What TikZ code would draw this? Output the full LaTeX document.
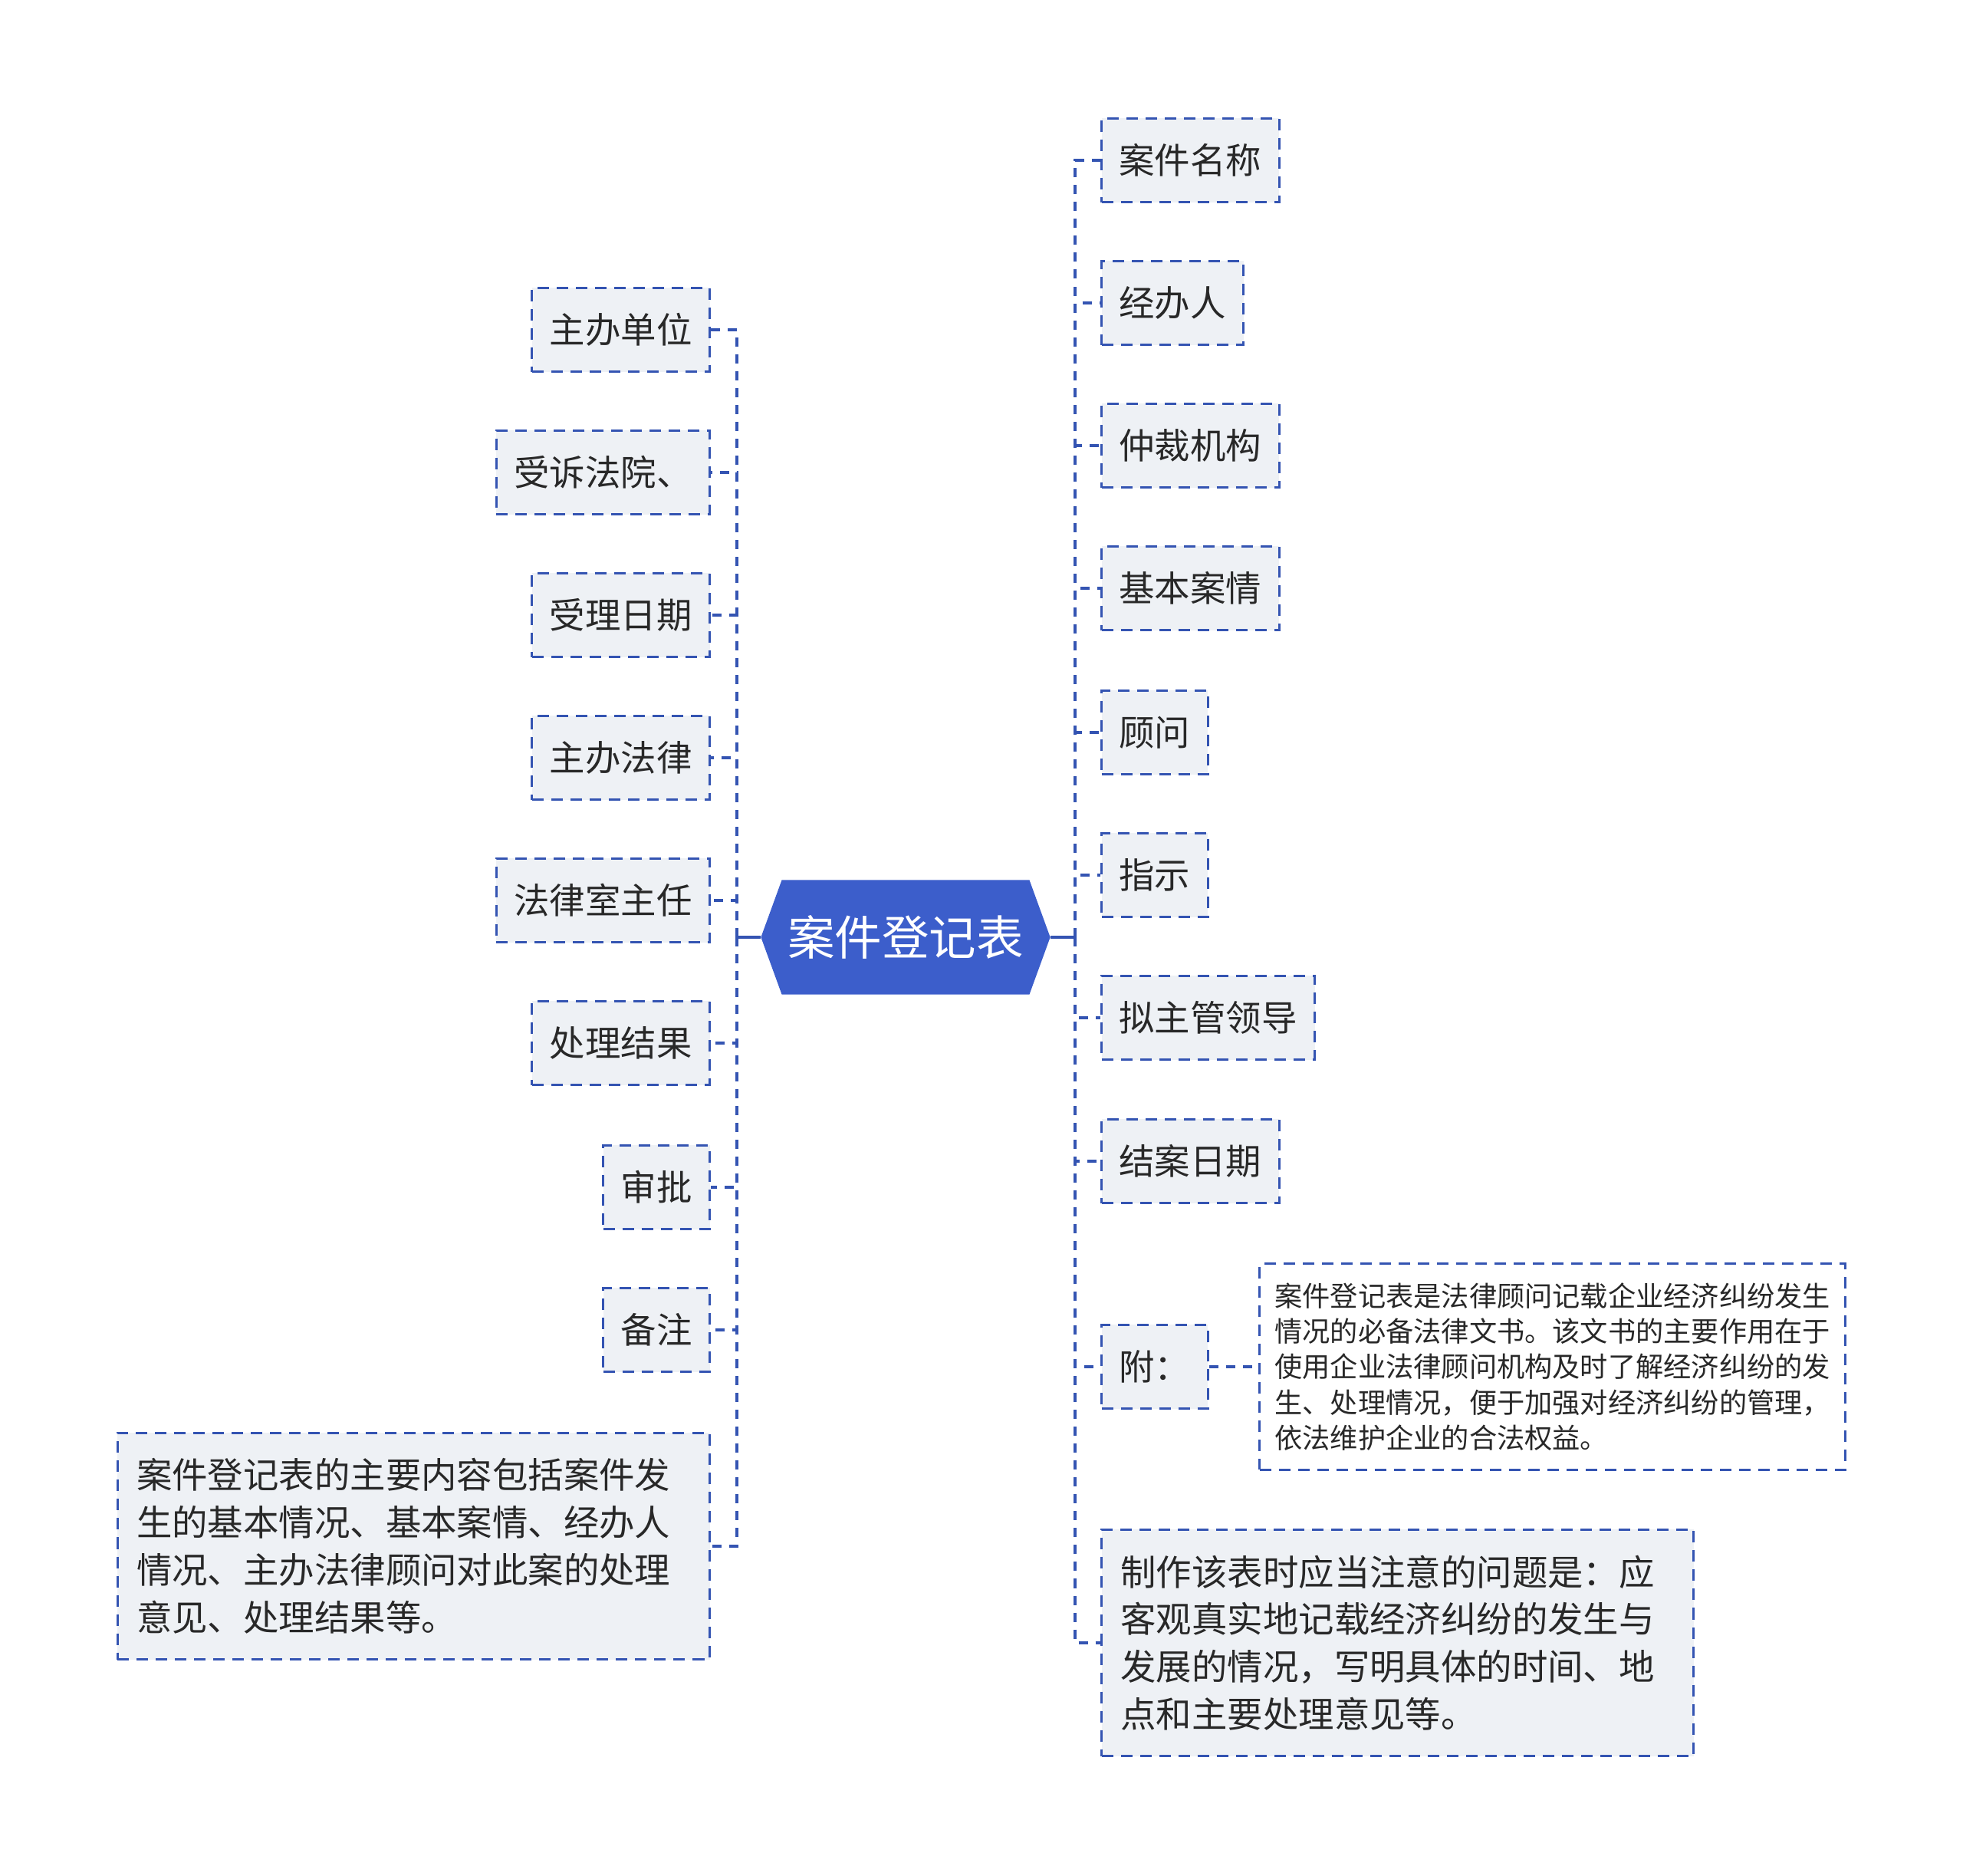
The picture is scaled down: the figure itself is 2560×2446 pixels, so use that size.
\documentclass[tikz,border=0pt]{standalone}
\usepackage{fontspec}
\setmainfont{Noto Sans CJK SC}
\usepackage{tikz}
\usetikzlibrary{shapes.symbols}
\definecolor{mmblue}{RGB}{52,84,178}
\definecolor{mmroot}{RGB}{60,94,203}
\definecolor{mmfill}{RGB}{238,241,245}
\definecolor{mmtext}{RGB}{40,40,40}

\begin{document}
\begin{tikzpicture}[x=0.01cm,y=-0.01cm,every node/.style={text=mmtext},
    topic/.style={draw=mmblue,line width=0.03cm,dash pattern=on 0.15cm off 0.1cm,fill=mmfill,minimum height=1.09cm,inner xsep=0.23cm,font=\fontsize{13.2}{16}\selectfont},
    longnote/.style={topic,align=left,inner xsep=0.25cm,text width=7.22cm,minimum height=2.95cm,font=\fontsize{13.2}{17.6}\selectfont},
    link/.style={draw=mmblue,line width=0.04cm,dash pattern=on 0.12cm off 0.1cm},
    rootlink/.style={draw=mmblue,line width=0.04cm}]
  \useasboundingbox (0,0) rectangle (2560,2446);
  \node[shape=signal,signal to=west and east,signal pointer angle=140,fill=mmroot,text=white,minimum width=3.77cm,minimum height=1.49cm,inner sep=0pt,font=\fontsize{17.5}{20}\selectfont] (root) at (1181,1222) {案件登记表};
  \coordinate (ljoint) at (961,1222);
  \coordinate (rjoint) at (1402,1222);
  % left side
  \node[topic,anchor=east] (unit) at (927,430) {主办单位};
  \node[topic,anchor=east] (court) at (927,616) {受诉法院、};
  \node[topic,anchor=east] (accept) at (927,802) {受理日期};
  \node[topic,anchor=east] (lawyer) at (927,988) {主办法律};
  \node[topic,anchor=east] (director) at (927,1174) {法律室主任};
  \node[topic,anchor=east] (result) at (927,1360) {处理结果};
  \node[topic,anchor=east] (approve) at (927,1548) {审批};
  \node[topic,anchor=east] (remark) at (927,1734) {备注};
  \node[longnote,anchor=east] (content) at (927,2016) {案件登记表的主要内容包括案件发\\生的基本情况、基本案情、经办人\\情况、主办法律顾问对此案的处理\\意见、处理结果等。};
  % right side
  \node[topic,anchor=west] (casename) at (1435,209) {案件名称};
  \node[topic,anchor=west] (handler) at (1435,395) {经办人};
  \node[topic,anchor=west] (arbit) at (1435,581) {仲裁机构};
  \node[topic,anchor=west] (facts) at (1435,767) {基本案情};
  \node[topic,anchor=west] (advisor) at (1435,955) {顾问};
  \node[topic,anchor=west] (instruct) at (1435,1141) {指示};
  \node[topic,anchor=west] (leader) at (1435,1327) {拟主管领导};
  \node[topic,anchor=west] (closing) at (1435,1514) {结案日期};
  \node[topic,anchor=west] (fu) at (1435,1782) {附：};
  \node[topic,anchor=west,fill=white,align=left,inner xsep=0.2cm,minimum height=2.68cm,font=\fontsize{10.3}{13.2}\selectfont] (fudetail) at (1641,1782) {案件登记表是法律顾问记载企业经济纠纷发生\\情况的必备法律文书。该文书的主要作用在于\\使用企业法律顾问机构及时了解经济纠纷的发\\生、处理情况，便于加强对经济纠纷的管理，\\依法维护企业的合法权益。};
  \node[longnote,anchor=west] (caution) at (1435,2142) {制作该表时应当注意的问题是：应\\客观真实地记载经济纠纷的发生与\\发展的情况，写明具体的时间、地\\点和主要处理意见等。};
  % connectors
  \draw[rootlink] (root.west) -- (ljoint);
  \draw[rootlink] (root.east) -- (rjoint);
  \draw[link] (ljoint) |- (unit.east);
  \draw[link] (ljoint) |- (court.east);
  \draw[link] (ljoint) |- (accept.east);
  \draw[link] (ljoint) |- (lawyer.east);
  \draw[link] (ljoint) |- (director.east);
  \draw[link] (ljoint) |- (result.east);
  \draw[link] (ljoint) |- (approve.east);
  \draw[link] (ljoint) |- (remark.east);
  \draw[link] (ljoint) |- (content.east);
  \draw[link] (rjoint) |- (casename.west);
  \draw[link] (rjoint) |- (handler.west);
  \draw[link] (rjoint) |- (arbit.west);
  \draw[link] (rjoint) |- (facts.west);
  \draw[link] (rjoint) |- (advisor.west);
  \draw[link] (rjoint) |- (instruct.west);
  \draw[link] (rjoint) |- (leader.west);
  \draw[link] (rjoint) |- (closing.west);
  \draw[link] (rjoint) |- (fu.west);
  \draw[link] (rjoint) |- (caution.west);
  \draw[link] (fu.east) -- (fudetail.west);
\end{tikzpicture}
\end{document}
